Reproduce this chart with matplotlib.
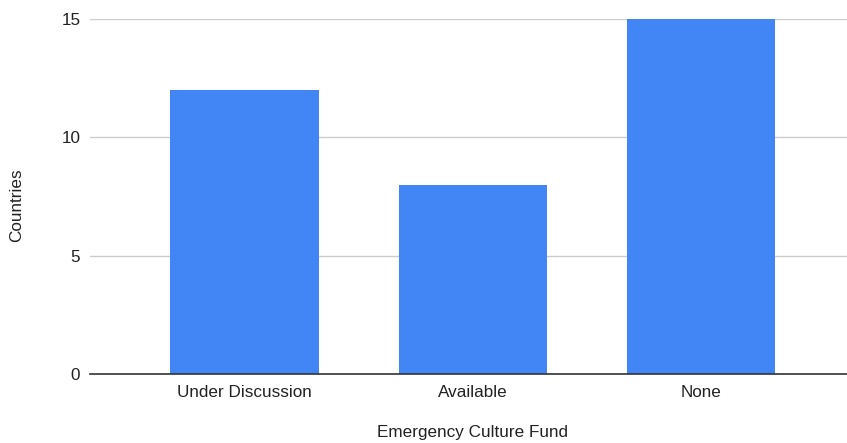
import matplotlib.pyplot as plt

categories = ['Under Discussion', 'Available', 'None']
countries = [12, 8, 15]
yticks = [0, 5, 10, 15]

plt.rcParams['font.family'] = ['Liberation Sans', 'DejaVu Sans']

fig = plt.figure(figsize=(8.47, 4.43), dpi=100)
ax = fig.add_axes([90 / 847, 69 / 443, 757 / 847, 355 / 443])

x = range(len(categories))
ax.bar(x, countries, width=0.65, color='#4285f4', zorder=3)

ax.set_xlim(-0.677, 2.64)
ax.set_ylim(0, 15)
ax.set_yticks(yticks)
ax.set_xticks(list(x))
ax.set_xticklabels(categories)

ax.grid(axis='y', color='#cccccc', linewidth=1, zorder=0)
for s in ['top', 'right', 'left']:
    ax.spines[s].set_visible(False)
ax.spines['bottom'].set_color('#333333')
ax.spines['bottom'].set_linewidth(1.2)
ax.spines['bottom'].set_zorder(4)
ax.tick_params(axis='both', length=0, labelsize=12.3, colors='#222222')
ax.tick_params(axis='x', pad=8)
ax.tick_params(axis='y', pad=7)

# axis titles placed in figure coords
fig.text(17 / 847, 1 - 205 / 443, 'Countries', rotation=90,
         ha='center', va='center', fontsize=12.3, color='#222222')
fig.text(472 / 847, 1 - 433 / 443, 'Emergency Culture Fund',
         ha='center', va='center', fontsize=12.3, color='#222222')

fig.savefig('out.png', dpi=100)
